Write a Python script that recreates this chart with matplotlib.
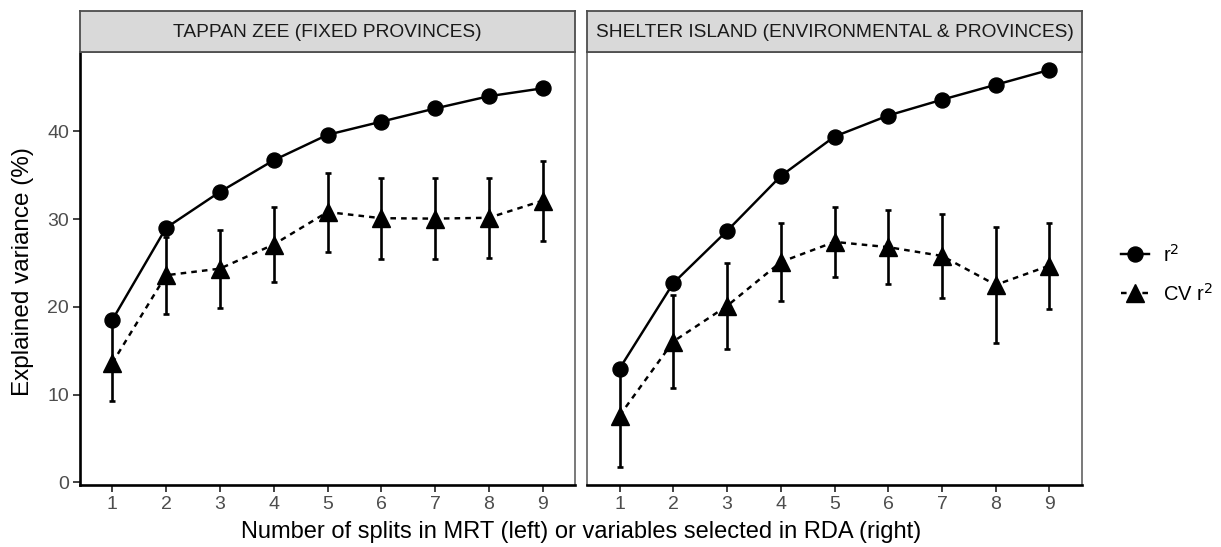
import matplotlib
matplotlib.use("Agg")
import matplotlib.pyplot as plt
from matplotlib.lines import Line2D

plt.rcParams['font.family'] = ['Liberation Sans', 'DejaVu Sans']

x = [1, 2, 3, 4, 5, 6, 7, 8, 9]
panels = ["TAPPAN ZEE (FIXED PROVINCES)", "SHELTER ISLAND (ENVIRONMENTAL & PROVINCES)"]

tz_r2 = [18.5, 29.0, 33.1, 36.7, 39.6, 41.1, 42.6, 44.0, 44.9]
tz_cv = [13.6, 23.6, 24.35, 27.1, 30.8, 30.1, 30.05, 30.15, 32.1]
tz_cv_err = [4.3, 4.4, 4.45, 4.3, 4.5, 4.6, 4.65, 4.55, 4.55]

si_r2 = [12.96, 22.7, 28.65, 34.9, 39.4, 41.8, 43.6, 45.3, 47.0]
si_cv = [7.6, 16.05, 20.1, 25.1, 27.4, 26.8, 25.8, 22.5, 24.7]
si_cv_err = [5.8, 5.25, 4.9, 4.4, 4.0, 4.2, 4.8, 6.6, 4.9]

yticks = [0, 10, 20, 30, 40]
legend_labels = [r"r$^2$", r"CV r$^2$"]

fig = plt.figure(figsize=(12.21, 5.47), dpi=100)
W, H = 1221, 547

def fx(px):
    return px / W
def fy(py):
    return 1 - py / H

panel_px = [(80.0, 575.0), (587.3, 1081.7)]
top_px, bot_px = 51.7, 485.0
strip_top = 11.0

data = [(tz_r2, tz_cv, tz_cv_err), (si_r2, si_cv, si_cv_err)]
tick_col = '#4D4D4D'
border_col = '#6E6E6E'
LW = 1.75
DASH = (0, (2.3, 2.1))
MS_C = 10.8
MS_T = 12.5

for i, ((l, r), title, (r2, cv, err)) in enumerate(zip(panel_px, panels, data)):
    ax = fig.add_axes([fx(l), fy(bot_px), fx(r - l), (bot_px - top_px) / H])
    ax.set_xlim(0.4, 9.6)
    ax.set_ylim(-0.3, 49.07)
    ax.errorbar(x, cv, yerr=err, fmt='none', ecolor='black', elinewidth=1.9,
                capsize=1.9, capthick=1.9, zorder=2)
    ax.plot(x, r2, color='black', lw=LW, marker='o', ms=MS_C, zorder=3)
    ax.plot(x, cv, color='black', lw=LW, ls=DASH, marker='^', ms=MS_T, zorder=3)
    for s in ['top', 'right']:
        ax.spines[s].set_color(border_col)
        ax.spines[s].set_linewidth(1.3)
    ax.spines['bottom'].set_color('black')
    ax.spines['bottom'].set_linewidth(1.9)
    if i == 0:
        ax.spines['left'].set_color('black')
        ax.spines['left'].set_linewidth(1.9)
        ax.set_yticks(yticks)
        ax.set_yticklabels([str(v) for v in yticks], fontsize=14, color=tick_col)
    else:
        ax.spines['left'].set_color(border_col)
        ax.spines['left'].set_linewidth(1.3)
        ax.set_yticks([])
    ax.set_xticks(x)
    ax.set_xticklabels([str(v) for v in x], fontsize=14, color=tick_col)
    ax.tick_params(axis='both', length=5, width=1.3, color='#333333', pad=3)

    sax = fig.add_axes([fx(l), fy(top_px), fx(r - l), (top_px - strip_top) / H])
    sax.set_facecolor('#D9D9D9')
    sax.set_xticks([]); sax.set_yticks([])
    for s in sax.spines.values():
        s.set_color('#4D4D4D')
        s.set_linewidth(1.3)
    sax.text(0.5, 0.47, title, ha='center', va='center', fontsize=13.8,
             color='#1A1A1A', transform=sax.transAxes)

fig.text(fx(23.5), fy(271.5), "Explained variance (%)", rotation=90, ha='center',
         va='center', fontsize=17.5, color='black')
fig.text(fx(581), fy(532), "Number of splits in MRT (left) or variables selected in RDA (right)",
         ha='center', va='center', fontsize=17, color='black')

handles = [
    Line2D([], [], color='black', lw=LW, marker='o', ms=MS_C),
    Line2D([], [], color='black', lw=LW, ls=DASH, marker='^', ms=MS_T),
]
fig.legend(handles, legend_labels, loc='center left',
           bbox_to_anchor=(fx(1121), fy(274)), frameon=False, fontsize=14.5,
           handlelength=1.4, labelspacing=0.85, handletextpad=0.7,
           borderpad=0, borderaxespad=0)

fig.savefig("out.png", dpi=100)
